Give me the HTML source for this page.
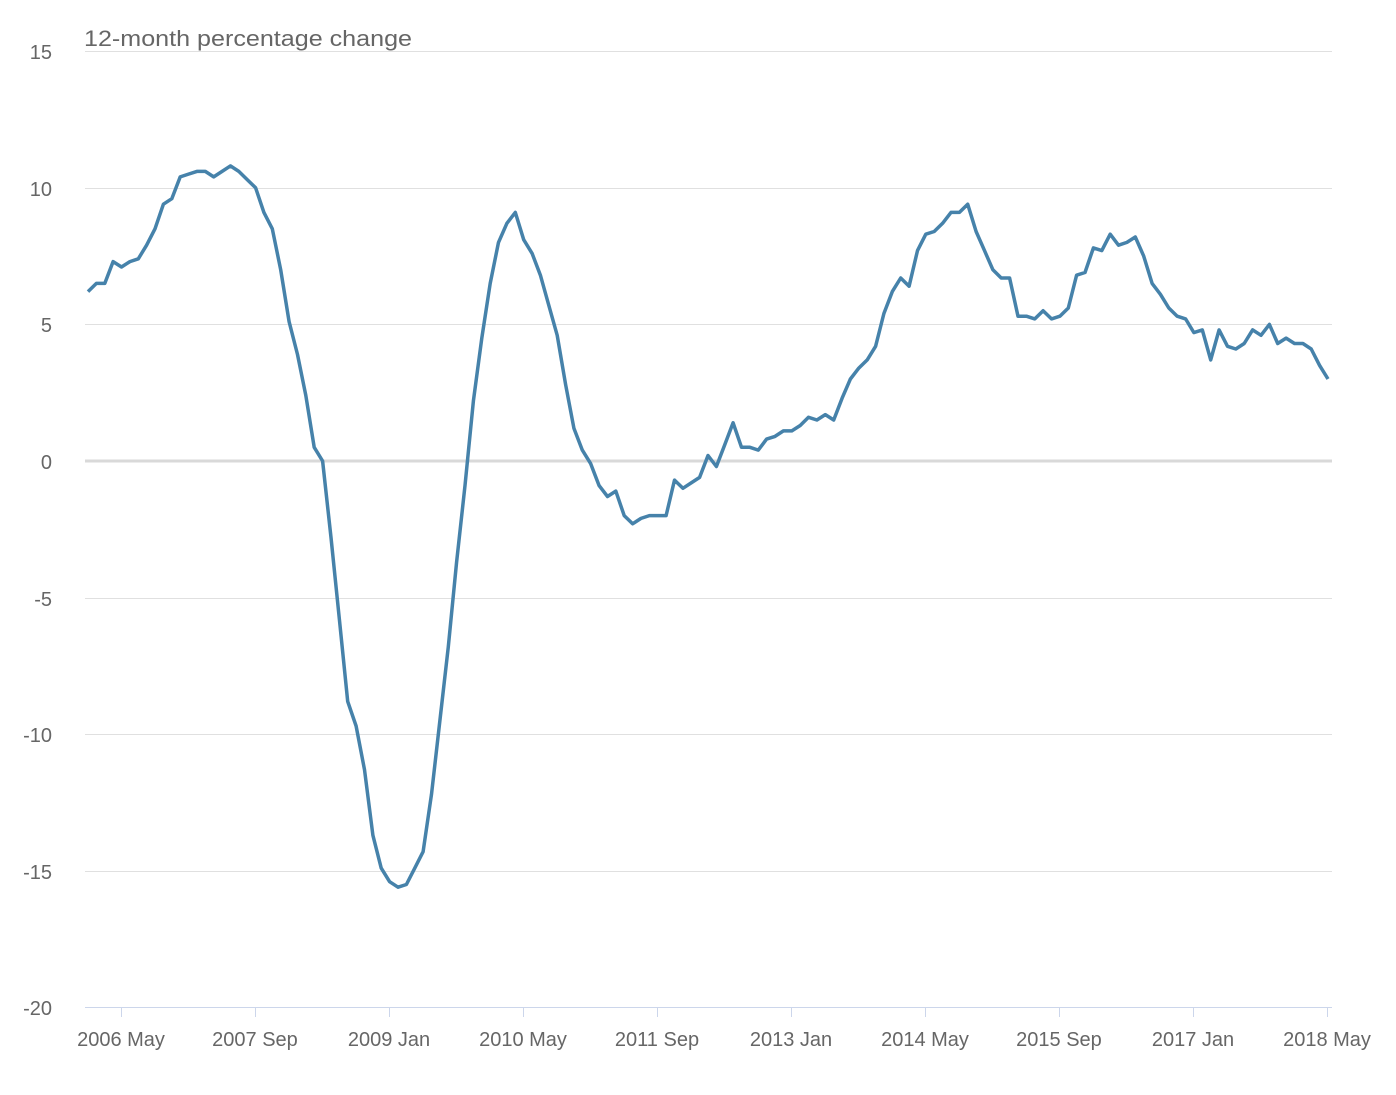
<!DOCTYPE html>
<html><head><meta charset="utf-8">
<style>
html,body{margin:0;padding:0;background:#fff;}
svg text{font-family:"Liberation Sans","DejaVu Sans",sans-serif;}
</style></head>
<body>
<svg id="c" width="1396" height="1090" viewBox="0 0 1396 1090" xmlns="http://www.w3.org/2000/svg">
<defs><clipPath id="tc"><rect x="0" y="30" width="1396" height="40"/></clipPath></defs>
<g stroke="#e0e0e0" stroke-width="1">
<line x1="85" x2="1332" y1="51.5" y2="51.5"/>
<line x1="85" x2="1332" y1="188.5" y2="188.5"/>
<line x1="85" x2="1332" y1="324.5" y2="324.5"/>
<line x1="85" x2="1332" y1="598.5" y2="598.5"/>
<line x1="85" x2="1332" y1="734.5" y2="734.5"/>
<line x1="85" x2="1332" y1="871.5" y2="871.5"/>
</g>
<line x1="85" x2="1332" y1="461" y2="461" stroke="#d9d9d9" stroke-width="3"/>
<line x1="85" x2="1332" y1="1007.5" y2="1007.5" stroke="#ccd6eb" stroke-width="1"/>
<g stroke="#ccd6eb" stroke-width="1">
<line x1="121.5" x2="121.5" y1="1007" y2="1017"/>
<line x1="255.5" x2="255.5" y1="1007" y2="1017"/>
<line x1="389.5" x2="389.5" y1="1007" y2="1017"/>
<line x1="523.5" x2="523.5" y1="1007" y2="1017"/>
<line x1="657.5" x2="657.5" y1="1007" y2="1017"/>
<line x1="791.5" x2="791.5" y1="1007" y2="1017"/>
<line x1="925.5" x2="925.5" y1="1007" y2="1017"/>
<line x1="1059.5" x2="1059.5" y1="1007" y2="1017"/>
<line x1="1193.5" x2="1193.5" y1="1007" y2="1017"/>
<line x1="1327.5" x2="1327.5" y1="1007" y2="1017"/>
</g>
<g fill="#666" font-size="20" text-anchor="end">
<text x="52" y="59">15</text>
<text x="52" y="196">10</text>
<text x="52" y="332">5</text>
<text x="52" y="469">0</text>
<text x="52" y="606">-5</text>
<text x="52" y="742">-10</text>
<text x="52" y="879">-15</text>
<text x="52" y="1015">-20</text>
</g>
<g fill="#666" font-size="20" text-anchor="middle">
<text x="121" y="1046">2006 May</text>
<text x="255" y="1046">2007 Sep</text>
<text x="389" y="1046">2009 Jan</text>
<text x="523" y="1046">2010 May</text>
<text x="657" y="1046">2011 Sep</text>
<text x="791" y="1046">2013 Jan</text>
<text x="925" y="1046">2014 May</text>
<text x="1059" y="1046">2015 Sep</text>
<text x="1193" y="1046">2017 Jan</text>
<text x="1327" y="1046">2018 May</text>
</g>
<text x="84" y="46" fill="#666" font-size="22" textLength="328" lengthAdjust="spacingAndGlyphs" clip-path="url(#tc)">12-month percentage change</text>
<polyline id="ln" fill="none" stroke="#4682aa" stroke-width="3.5" stroke-linejoin="round" points=""/>
</svg>
<script>
var d=[6.2,6.5,6.5,7.3,7.1,7.3,7.4,7.9,8.5,9.4,9.6,10.4,10.5,10.6,10.6,10.4,10.6,10.8,10.6,10.3,10.0,9.1,8.5,7.0,5.1,3.9,2.4,0.5,0.0,-2.8,-5.8,-8.8,-9.7,-11.3,-13.7,-14.9,-15.4,-15.6,-15.5,-14.9,-14.3,-12.2,-9.5,-6.8,-3.7,-0.9,2.2,4.5,6.5,8.0,8.7,9.1,8.1,7.6,6.8,5.7,4.6,2.8,1.2,0.4,-0.1,-0.9,-1.3,-1.1,-2.0,-2.3,-2.1,-2.0,-2.0,-2.0,-0.7,-1.0,-0.8,-0.6,0.2,-0.2,0.6,1.4,0.5,0.5,0.4,0.8,0.9,1.1,1.1,1.3,1.6,1.5,1.7,1.5,2.3,3.0,3.4,3.7,4.2,5.4,6.2,6.7,6.4,7.7,8.3,8.4,8.7,9.1,9.1,9.4,8.4,7.7,7.0,6.7,6.7,5.3,5.3,5.2,5.5,5.2,5.3,5.6,6.8,6.9,7.8,7.7,8.3,7.9,8.0,8.2,7.5,6.5,6.1,5.6,5.3,5.2,4.7,4.8,3.7,4.8,4.2,4.1,4.3,4.8,4.6,5.0,4.3,4.5,4.3,4.3,4.1,3.5,3.0];
var p=[];for(var i=0;i<d.length;i++){p.push((88+i*(1328-88)/(d.length-1)).toFixed(1)+","+(461-27.32*d[i]).toFixed(1));}
document.getElementById("ln").setAttribute("points",p.join(" "));
</script>
</body></html>
